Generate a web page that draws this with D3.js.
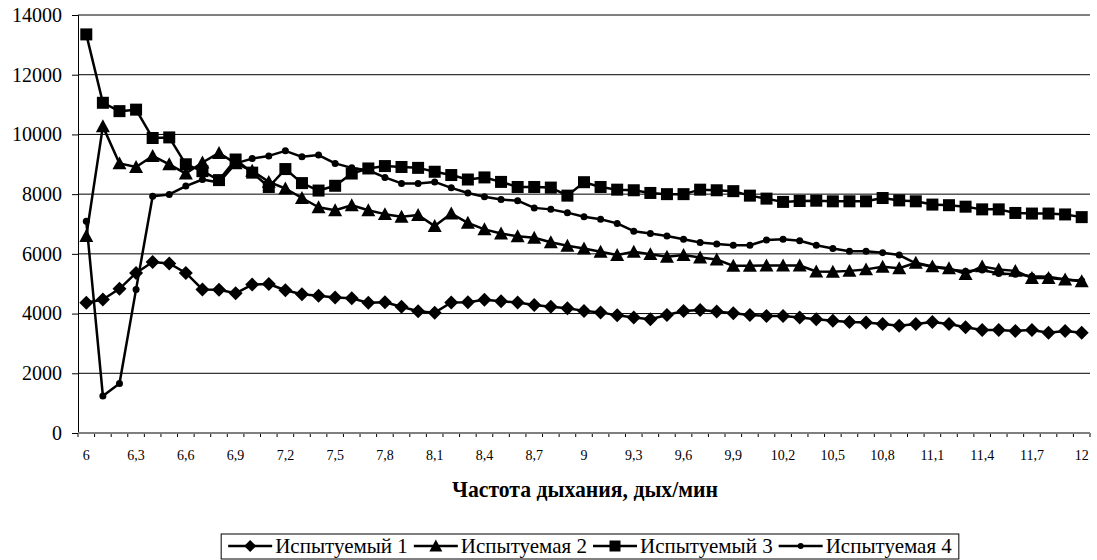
<!DOCTYPE html>
<html>
<head>
<meta charset="utf-8">
<script src="https://cdn.jsdelivr.net/npm/d3@7"></script>
<style>
  html, body { margin: 0; padding: 0; background: #fff; }
  svg { display: block; }
  text { font-family: "Liberation Serif", "Times New Roman", serif; fill: #000; }
</style>
</head>
<body>
<svg id="chart" width="1097" height="560"></svg>
<script>
// Breathing rate, breaths per minute
const categories = ["6","6,1","6,2","6,3","6,4","6,5","6,6","6,7","6,8","6,9",
  "7","7,1","7,2","7,3","7,4","7,5","7,6","7,7","7,8","7,9",
  "8","8,1","8,2","8,3","8,4","8,5","8,6","8,7","8,8","8,9",
  "9","9,1","9,2","9,3","9,4","9,5","9,6","9,7","9,8","9,9",
  "10","10,1","10,2","10,3","10,4","10,5","10,6","10,7","10,8","10,9",
  "11","11,1","11,2","11,3","11,4","11,5","11,6","11,7","11,8","11,9","12"];

const tickLabels = ["6","6,3","6,6","6,9","7,2","7,5","7,8","8,1","8,4","8,7",
  "9","9,3","9,6","9,9","10,2","10,5","10,8","11,1","11,4","11,7","12"];

const yTicks = [0, 2000, 4000, 6000, 8000, 10000, 12000, 14000];

const subject1 = [4360,4470,4830,5360,5730,5680,5360,4810,4800,4680,
  4970,4990,4780,4650,4600,4540,4510,4360,4380,4230,
  4080,4030,4370,4380,4460,4410,4370,4290,4230,4180,
  4090,4040,3940,3870,3810,3950,4090,4120,4070,4010,
  3950,3920,3920,3870,3810,3760,3720,3700,3650,3590,
  3650,3720,3650,3540,3450,3450,3420,3450,3360,3420,3360];

const subject2 = [6600,10270,9030,8910,9280,9000,8690,9060,9380,9030,
  8780,8410,8190,7870,7560,7460,7630,7460,7330,7240,
  7300,6930,7350,7040,6820,6680,6590,6540,6390,6270,
  6180,6070,5960,6070,5990,5900,5960,5880,5810,5600,
  5600,5610,5610,5610,5410,5400,5430,5480,5570,5520,
  5700,5580,5520,5320,5580,5480,5430,5190,5190,5140,5080];

const subject3 = [13350,11060,10780,10830,9880,9900,9000,8770,8470,9160,
  8720,8240,8840,8370,8120,8280,8690,8860,8940,8910,
  8880,8750,8640,8490,8560,8410,8240,8240,8220,7950,
  8400,8240,8150,8130,8040,8000,8000,8150,8130,8100,
  7950,7850,7740,7770,7780,7760,7760,7760,7870,7790,
  7760,7650,7630,7580,7490,7490,7370,7350,7350,7320,7230];

const subject4 = [7090,1240,1660,4810,7930,7990,8270,8490,8390,9030,
  9190,9280,9450,9250,9310,9030,8880,8800,8560,8360,
  8360,8410,8210,8040,7910,7820,7780,7540,7490,7380,
  7240,7160,7020,6760,6680,6600,6490,6380,6330,6290,
  6290,6460,6490,6440,6290,6180,6090,6090,6040,5960,
  5680,5570,5480,5420,5460,5340,5320,5250,5230,5140,5100];

const seriesNames = ["Испытуемый 1", "Испытуемая 2", "Испытуемый 3", "Испытуемая 4"];
const seriesValues = [subject1, subject2, subject3, subject4];
const seriesMarkers = ["diamond", "triangle", "square", "circle"];
const axisTitle = "Частота дыхания, дых/мин";
const serif = "Liberation Serif, Times New Roman, serif";

const svg = d3.select("#chart");
svg.append("rect").attr("width", 1097).attr("height", 560).attr("fill", "#fff");

const plot = { left: 78, right: 1090, top: 15, bottom: 433 };

const x = d3.scaleBand().domain(categories).range([plot.left, plot.right]).padding(0);
const cx = c => x(c) + x.bandwidth() / 2;
const y = d3.scaleLinear().domain([0, 14000]).range([plot.bottom, plot.top]);

// Horizontal gridlines
svg.append("g")
  .selectAll("line")
  .data(yTicks.filter(v => v > 0))
  .join("line")
  .attr("x1", plot.left).attr("x2", plot.right)
  .attr("y1", d => y(d)).attr("y2", d => y(d))
  .attr("stroke", "#000").attr("stroke-width", 1);

// Y axis
const yAxis = svg.append("g")
  .attr("transform", `translate(${plot.left},0)`)
  .call(d3.axisLeft(y).tickValues(yTicks).tickSize(6).tickPadding(10).tickFormat(d3.format("d")));
yAxis.attr("font-family", serif);
yAxis.select(".domain").attr("stroke", "#000").attr("stroke-width", 1);
yAxis.selectAll(".tick line").attr("stroke", "#000");
yAxis.selectAll("text")
  .attr("font-family", serif)
  .attr("font-size", 20).attr("fill", "#000");

// X axis: tick marks on every category boundary, labels on every third category
const xg = svg.append("g");
const boundaries = categories.map(c => x(c)).concat([plot.right]);
xg.selectAll("line.tick")
  .data(boundaries)
  .join("line")
  .attr("class", "tick")
  .attr("x1", d => d).attr("x2", d => d)
  .attr("y1", plot.bottom).attr("y2", plot.bottom + 4)
  .attr("stroke", "#000").attr("stroke-width", 1);
xg.append("line")
  .attr("x1", plot.left).attr("x2", plot.right)
  .attr("y1", plot.bottom).attr("y2", plot.bottom)
  .attr("stroke", "#7f7f7f").attr("stroke-width", 2);
xg.selectAll("text")
  .data(tickLabels)
  .join("text")
  .attr("x", d => cx(d))
  .attr("y", plot.bottom + 27)
  .attr("text-anchor", "middle")
  .attr("font-family", serif)
  .attr("font-size", 14)
  .text(d => d);

// Axis title
svg.append("text")
  .attr("x", 585).attr("y", 497)
  .attr("text-anchor", "middle")
  .attr("font-family", serif)
  .attr("font-size", 23)
  .attr("font-weight", "bold")
  .attr("textLength", 266)
  .attr("lengthAdjust", "spacingAndGlyphs")
  .text(axisTitle);

// Marker shapes
function drawMarker(g, type, px, py, s) {
  if (type === "diamond") {
    g.append("path").attr("d", `M${px},${py - s}L${px + s},${py}L${px},${py + s}L${px - s},${py}Z`);
  } else if (type === "triangle") {
    g.append("path").attr("d", `M${px},${py - s}L${px + s},${py + s * 0.85}L${px - s},${py + s * 0.85}Z`);
  } else if (type === "square") {
    g.append("rect").attr("x", px - s).attr("y", py - s).attr("width", 2 * s).attr("height", 2 * s);
  } else {
    g.append("circle").attr("cx", px).attr("cy", py).attr("r", s);
  }
}
const markerSize = { diamond: 7, triangle: 7, square: 6, circle: 3.5 };

// Series lines and markers
const line = d3.line().x((d, i) => cx(categories[i])).y(d => y(d));
seriesValues.forEach((vals, k) => {
  const g = svg.append("g").attr("fill", "#000");
  g.append("path")
    .attr("d", line(vals))
    .attr("fill", "none").attr("stroke", "#000").attr("stroke-width", 2.5)
    .attr("stroke-linejoin", "round");
  vals.forEach((v, i) => drawMarker(g, seriesMarkers[k], cx(categories[i]), y(v), markerSize[seriesMarkers[k]]));
});

// Legend
const legend = svg.append("g");
const legendItems = [];
let lx = 0;
seriesNames.forEach((name, k) => {
  const item = legend.append("g");
  item.append("line").attr("x1", 0).attr("x2", 44).attr("y1", 0).attr("y2", 0)
    .attr("stroke", "#000").attr("stroke-width", 2.5);
  const mg = item.append("g").attr("fill", "#000");
  const ls = { diamond: 6, triangle: 6.5, square: 5.5, circle: 3 };
  drawMarker(mg, seriesMarkers[k], 22, 0, ls[seriesMarkers[k]]);
  const t = item.append("text").attr("x", 47).attr("y", 0).attr("dy", "0.32em")
    .attr("font-family", serif)
    .attr("font-size", 21).text(name);
  const w = 47 + t.node().getComputedTextLength();
  legendItems.push({ item, x: lx });
  lx += w + 6;
});
const legendWidth = lx - 6;
const legendLeft = 590 - legendWidth / 2;
const legendY = 546;
legendItems.forEach(d => d.item.attr("transform", `translate(${legendLeft + d.x},${legendY})`));
legend.insert("rect", ":first-child")
  .attr("x", legendLeft - 7).attr("y", 534)
  .attr("width", legendWidth + 14).attr("height", 25)
  .attr("fill", "#fff").attr("stroke", "#000").attr("stroke-width", 1);
</script>
</body>
</html>
